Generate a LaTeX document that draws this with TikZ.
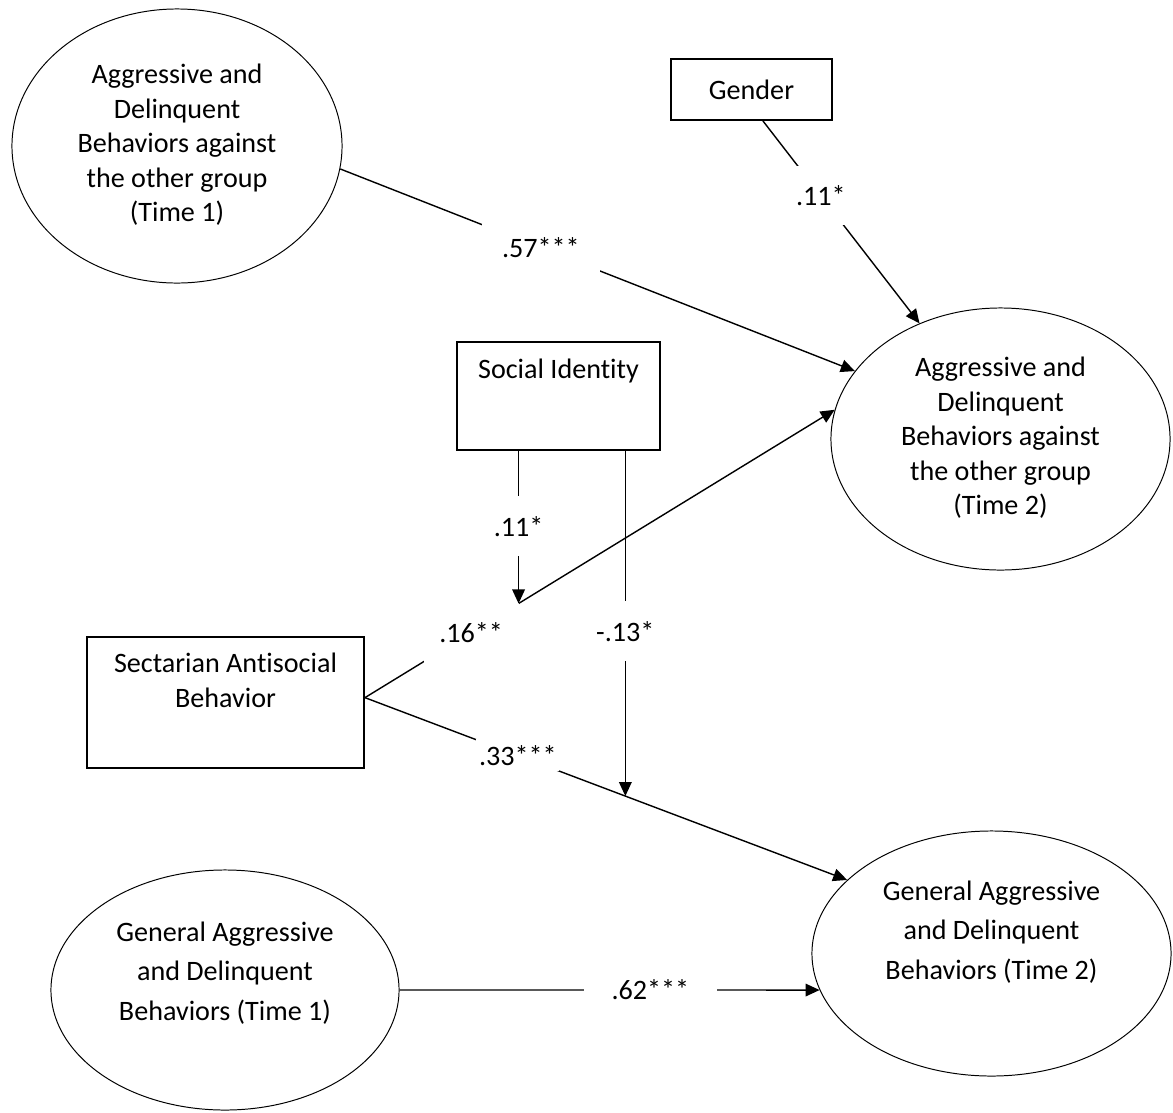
\documentclass[tikz,border=0pt]{standalone}
\usepackage{fontspec}
\setmainfont{Carlito}[Ligatures=NoCommon]
\usetikzlibrary{arrows.meta,calc,shapes.geometric}

\begin{document}
\begin{tikzpicture}[x=0.025cm,y=-0.025cm,font=\fontsize{20}{24.5}\selectfont,
    latent/.style={draw,ellipse,line width=0.7pt,inner sep=0pt},
    observed/.style={draw,rectangle,line width=1.3pt,inner sep=0pt},
    effect/.style={line width=1pt,-{Triangle[length=10pt,width=9pt]}},
    coef/.style={fill=white,inner sep=0pt}]
    \useasboundingbox (0,0) rectangle (1173,1113);

    % latent variables
    \node[latent,minimum width=8.25cm,minimum height=6.85cm] (A1) at (177,146)
      {\begin{tabular}{c}
         Aggressive and\\ Delinquent\\ Behaviors against\\ the other group\\ (Time 1)
       \end{tabular}};
    \node[latent,minimum width=8.475cm,minimum height=6.55cm] (A2) at (1000.5,439)
      {\begin{tabular}{c}
         Aggressive and\\ Delinquent\\ Behaviors against\\ the other group\\ (Time 2)
       \end{tabular}};
    \node[latent,minimum width=8.7cm,minimum height=6cm,
          font=\fontsize{20}{28}\selectfont] (G1) at (225,990)
      {\begin{tabular}{c}
         General Aggressive\\ and Delinquent\\ Behaviors (Time 1)\\[0.85cm]
       \end{tabular}};
    \node[latent,minimum width=8.975cm,minimum height=6.125cm,
          font=\fontsize{20}{28}\selectfont] (G2) at (991.5,953.5)
      {\begin{tabular}{c}
         General Aggressive\\ and Delinquent\\ Behaviors (Time 2)\\[1.08cm]
       \end{tabular}};

    % observed variables
    \node[observed,minimum width=4.025cm,minimum height=1.525cm] (gen) at (751.5,89.5) {Gender};
    \node[observed,minimum width=5.075cm,minimum height=2.7cm] (soc) at (558.5,396)
      {\begin{tabular}{c}Social Identity\\[1.2cm]\end{tabular}};
    \node[observed,minimum width=6.925cm,minimum height=3.275cm] (sect) at (225.5,702.5)
      {\begin{tabular}{c}Sectarian Antisocial\\ Behavior\\[0.975cm]\end{tabular}};

    % points where the moderation arrows meet the paths
    \coordinate (m1) at ($(sect.2)!0.327!(A2.170)$);
    \coordinate (m2) at ($(sect.2)!0.54!(G2.153)$);

    \draw[effect] (A1.-8) -- node[coef,pos=0.39,minimum width=2.93cm,minimum height=1.3cm] {.57***} (A2.155);
    \draw[effect] (gen.-70) -- node[coef,pos=0.37,minimum width=1.25cm,minimum height=1.48cm] {.11*} (A2.125);
    \draw[effect] (sect.2) -- node[coef,pos=0.226,minimum width=2.38cm,minimum height=1.5cm] {.16**} (A2.170);
    \draw[effect] (sect.2) -- node[coef,pos=0.317,minimum width=2.08cm,minimum height=0.8cm] {.33***} (G2.153);
    \draw[effect] (soc.south -| m1) -- node[coef,pos=0.495,minimum width=1.25cm,minimum height=1.5cm] {.11*} (m1);
    \draw[effect] (soc.south -| m2) -- node[coef,pos=0.523,minimum width=1.4cm,minimum height=1.5cm] {-.13*} (m2);
    \draw[effect] (G1.east) -- node[coef,pos=0.597,minimum width=3.33cm,minimum height=0.8cm] {.62***} (G2.192);
  \end{tikzpicture}
\end{document}
